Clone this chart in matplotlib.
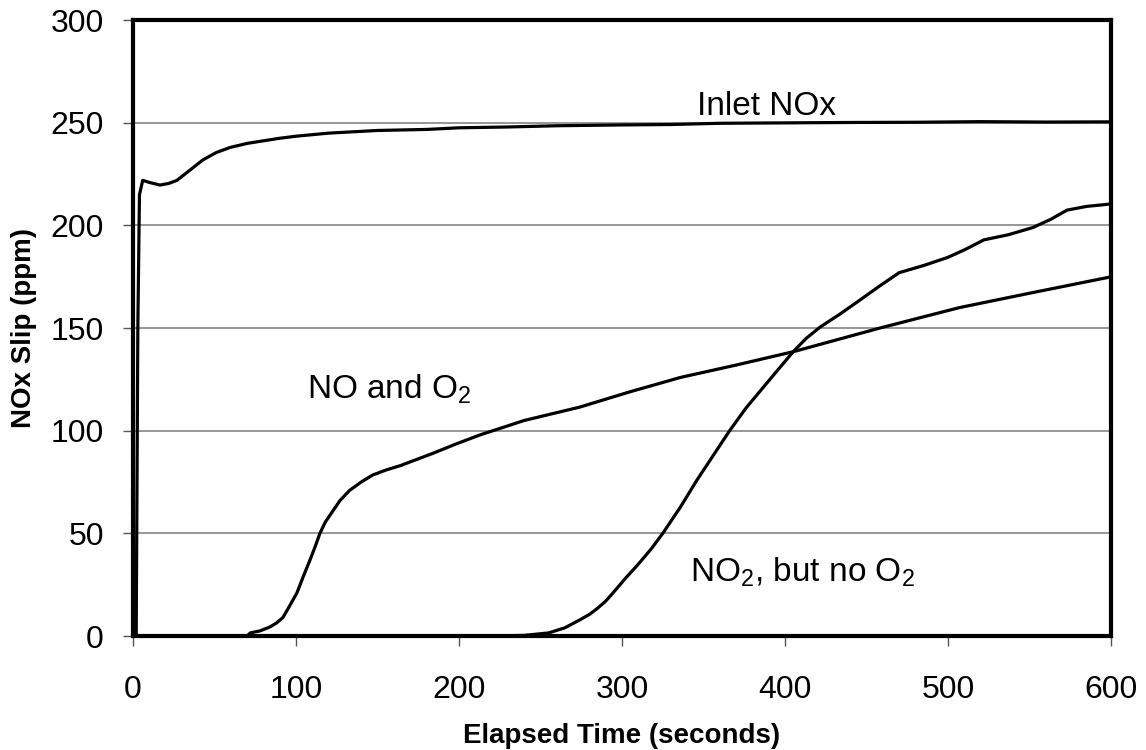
import matplotlib
matplotlib.use("Agg")
import matplotlib.pyplot as plt

plt.rcParams["font.family"] = ["Liberation Sans", "DejaVu Sans"]
plt.rcParams["mathtext.fontset"] = "custom"
plt.rcParams["mathtext.rm"] = "Liberation Sans"
plt.rcParams["mathtext.it"] = "Liberation Sans:italic"
plt.rcParams["mathtext.bf"] = "Liberation Sans:bold"

# data
inlet_t = [0, 2, 3, 4, 6, 10, 16.6, 22, 27, 35, 43, 51, 59.5, 70, 78, 90, 100, 120,
           150, 180, 200, 230, 260, 300, 330, 360, 400, 440, 480, 520, 560, 600]
inlet_v = [0, 0, 150, 215, 222, 221, 219.7, 220.5, 222, 227, 232, 235.5, 238, 240,
           241, 242.5, 243.5, 245, 246.3, 246.8, 247.6, 248, 248.6, 249, 249.2,
           249.8, 250, 250.2, 250.3, 250.6, 250.4, 250.5]

no_o2_t = [0, 70, 72, 78, 84, 88, 92, 96, 100.6, 104.5, 108.6, 112, 114.7, 118,
           122.7, 127, 133, 140, 147, 155, 164, 174, 184, 198, 213, 240, 274, 305,
           336, 370, 405, 458, 507, 550, 600]
no_o2_v = [0, 0, 1.5, 2.5, 4.4, 6.3, 9, 14.5, 21, 29, 37, 44, 50, 55.5,
           61, 66, 71, 75, 78.4, 80.8, 83, 86, 89, 93.5, 98, 105, 111.5, 119,
           126, 132, 138.5, 150, 160, 167, 175]

no2_t = [0, 220, 240, 255, 265, 274, 280, 285, 290, 294.5, 302, 310, 318, 325, 336,
         346, 356, 366, 376, 386.5, 396, 405, 413, 421.5, 434, 446, 458, 470, 485,
         500, 511, 522, 537, 552, 563, 573, 585, 600]
no2_v = [0, 0, 0.3, 1.5, 4, 7.8, 10.5, 13.5, 17, 21, 28, 35, 42.5, 50, 63,
         76, 88, 100, 111, 121, 130, 138.5, 145, 150.5, 157, 163.7, 170.5, 177, 180.5,
         184.5, 188.5, 193, 195.5, 199, 203, 207.5, 209.3, 210.5]

x_ticks = [0, 100, 200, 300, 400, 500, 600]
y_ticks = [0, 50, 100, 150, 200, 250, 300]

fig = plt.figure(figsize=(11.46, 7.5), dpi=100)
ax = fig.add_axes([0.116, 0.152, 0.8535, 0.821])

for y in y_ticks[1:-1]:
    ax.axhline(y, color="#7a7a7a", linewidth=1.1, zorder=1)

ax.plot(inlet_t, inlet_v, color="black", linewidth=2.3, zorder=3)
ax.plot(no_o2_t, no_o2_v, color="black", linewidth=2.3, zorder=3)
ax.plot(no2_t, no2_v, color="black", linewidth=2.3, zorder=3)

ax.text(346, 258, "Inlet NOx", fontsize=24, va="center", ha="left")
ax.text(107, 120, r"NO and O$_2$", fontsize=24, va="center", ha="left")
ax.text(342, 31, r"NO$_2$, but no O$_2$", fontsize=24, va="center", ha="left")

ax.set_xlim(0, 600)
ax.set_ylim(0, 300)
ax.set_xticks(x_ticks)
ax.set_yticks(y_ticks)
ax.tick_params(direction="out", length=7, width=1, color="#555555", labelsize=23)
ax.tick_params(axis="x", pad=21)
ax.tick_params(axis="y", pad=14)

for s in ax.spines.values():
    s.set_linewidth(3)
    s.set_zorder(4)

ax.set_xlabel("Elapsed Time (seconds)", fontsize=20, fontweight="bold", labelpad=13)
ax.set_ylabel("NOx Slip (ppm)", fontsize=20, fontweight="bold", labelpad=10)

fig.savefig("out.png", dpi=100, facecolor="white")
